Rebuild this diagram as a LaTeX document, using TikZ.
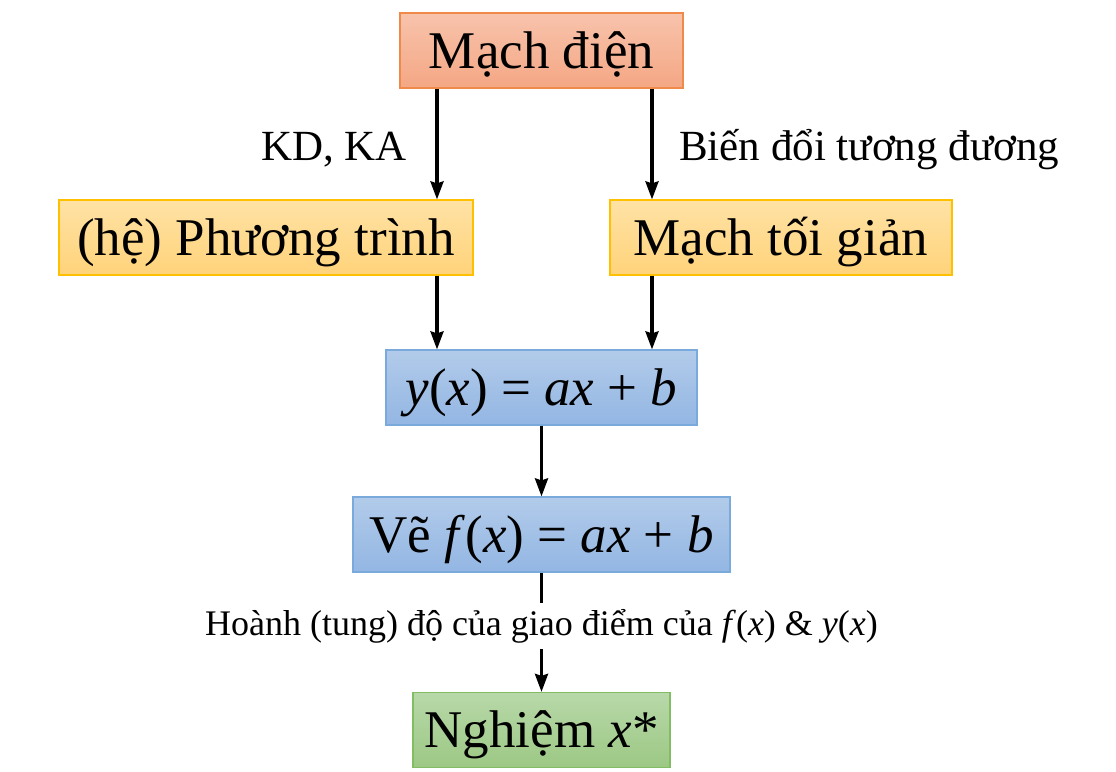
\documentclass[tikz,border=0pt]{standalone}
\usepackage{fontspec}
\setmainfont{LiberationSerif}[Extension=.ttf,
  UprightFont=*-Regular, BoldFont=*-Bold,
  ItalicFont=*-Italic, BoldItalicFont=*-BoldItalic]
\usetikzlibrary{arrows.meta}

\definecolor{camvien}{HTML}{F08A4B}
\definecolor{camtren}{HTML}{F8C3AC}
\definecolor{camduoi}{HTML}{F4A784}
\definecolor{vangvien}{HTML}{FFC000}
\definecolor{vangtren}{HTML}{FFE2A5}
\definecolor{vangduoi}{HTML}{FFD37A}
\definecolor{xanhvien}{HTML}{7AAADC}
\definecolor{xanhtren}{HTML}{B2CBEA}
\definecolor{xanhduoi}{HTML}{93B6E3}
\definecolor{lavien}{HTML}{80BD63}
\definecolor{latren}{HTML}{B8D8A9}
\definecolor{laduoi}{HTML}{9CC884}

\tikzset{
  hop/.style = {minimum height=37.5pt, inner sep=0pt, line width=0.6pt,
                text height=19.5pt, text depth=2pt,
                font=\fontsize{26.5}{30}\selectfont},
  hopcam/.style = {hop, draw=camvien, top color=camtren, bottom color=camduoi},
  hopvang/.style = {hop, draw=vangvien, top color=vangtren, bottom color=vangduoi},
  hopxanh/.style = {hop, draw=xanhvien, top color=xanhtren, bottom color=xanhduoi},
  hopla/.style = {hop, draw=lavien, top color=latren, bottom color=laduoi},
  muiten/.style = {line width=1.6pt, -{Stealth[length=9pt, width=6.5pt, inset=1pt]}},
  nhan/.style = {font=\fontsize{21.5}{24}\selectfont}
}

\begin{document}
\begin{tikzpicture}[x = 0.5pt, y = -0.5pt]

    % Khung
    \useasboundingbox (0,0) rectangle (1116,772);

    % Cac hop
    \node[hopcam, minimum width=141.5pt] (dien) at (541.5,50.5) {Mạch điện};
    \node[hopvang, minimum width=207pt] (pt) at (266,237.5) {(hệ) Phương trình};
    \node[hopvang, minimum width=171pt] (toigian) at (781,237.5) {Mạch tối giản};
    \node[hopxanh, minimum width=155.5pt] (yx) at (541.5,387.5)
        {\textit{y}(\textit{x}) = \textit{ax} + \textit{b}};
    \node[hopxanh, minimum width=188.5pt] (ve) at (541.5,534.5)
        {Vẽ \textit{f}(\textit{x}) = \textit{ax} + \textit{b}};
    \node[hopla, minimum width=128.5pt] (nghiem) at (541.5,730) {Nghiệm \textit{x}*};

    % Hai cot mui ten
    \coordinate (trai) at (437,0);
    \coordinate (phai) at (652,0);

    % Mui ten tren
    \draw[muiten] (dien.south -| trai) -- (pt.north -| trai);
    \draw[muiten] (dien.south -| phai) -- (toigian.north -| phai);
    \node[nhan, anchor=east] (kdka) at (414,150) {KD, KA};
    \node[nhan, anchor=west] (biendoi) at (672,150) {Biến đổi tương đương};

    % Mui ten giua
    \draw[muiten] (pt.south -| trai) -- (yx.north -| trai);
    \draw[muiten] (toigian.south -| phai) -- (yx.north -| phai);
    \draw[muiten] (yx) -- (ve);

    % Mui ten duoi
    \draw[muiten] (ve) -- node[pos=0.45, fill=white, inner sep=3pt, font=\fontsize{18}{21}\selectfont]
        {Hoành (tung) độ của giao điểm của \textit{f}(\textit{x}) \& \textit{y}(\textit{x})} (nghiem);

\end{tikzpicture}
\end{document}
